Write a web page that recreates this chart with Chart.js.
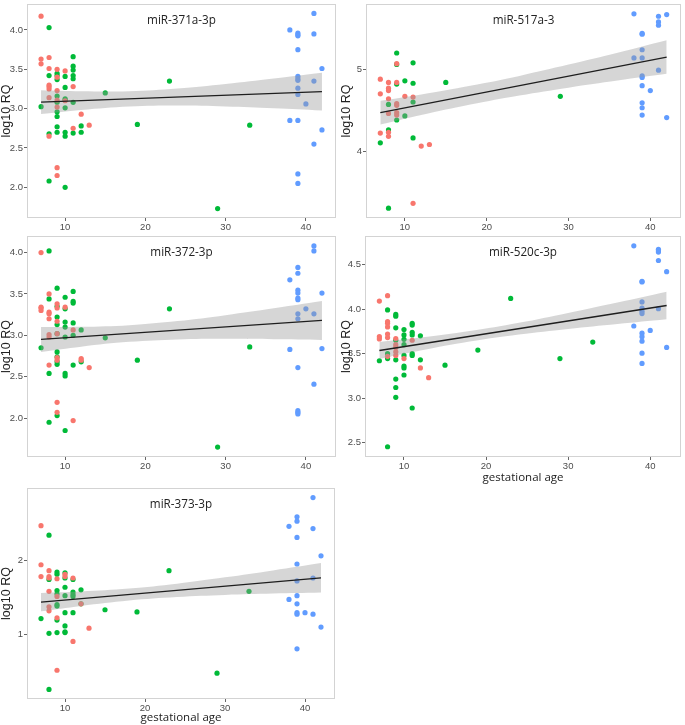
<!DOCTYPE html>
<html>
<head>
<meta charset="utf-8">
<script src="https://cdn.jsdelivr.net/npm/chart.js@4.4.0/dist/chart.umd.min.js"></script>
<style>
  body { margin: 0; background: #fff; width: 685px; height: 725px; position: relative; overflow: hidden; }
  canvas { position: absolute; }
</style>
</head>
<body>
<canvas id="c1" width="340" height="232" style="left:0;top:0"></canvas>
<canvas id="c2" width="345" height="232" style="left:340px;top:0"></canvas>
<canvas id="c3" width="340" height="238" style="left:0;top:232px"></canvas>
<canvas id="c4" width="345" height="256" style="left:340px;top:232px"></canvas>
<canvas id="c5" width="340" height="241" style="left:0;top:484px"></canvas>
<script>
// gestational age ticks, shared by every panel
const xTicks = [10, 20, 30, 40];
const fitX = [7, 42];
const bandX = [7, 12, 18, 24, 30, 36, 42];

// miR-371a-3p
const red371a = [[7,4.175],[7,3.63],[7,3.57],[8,3.65],[8,3.51],[8,3.30],[8,3.28],[8,3.25],[8,3.14],[8,2.65],
  [9,3.50],[9,3.40],[9,3.23],[9,3.11],[9,3.02],[9,2.25],[9,2.15],[10,3.48],[10,3.10],[11,3.28],[11,2.75],[12,2.93],[13,2.79]];
const green371a = [[7,3.025],[8,4.03],[8,3.42],[8,2.68],[8,2.08],[9,3.45],[9,3.42],[9,3.37],[9,3.16],[9,3.08],[9,2.96],
  [9,2.90],[9,2.77],[9,2.70],[10,3.41],[10,3.27],[10,3.125],[10,3.11],[10,3.01],[10,2.70],[10,2.65],[10,2.00],
  [11,3.66],[11,3.54],[11,3.49],[11,3.42],[11,3.38],[11,3.08],[11,2.69],[12,2.78],[12,2.70],[15,3.20],[19,2.80],
  [23,3.35],[29,1.73],[33,2.79]];
const blue371a = [[38,4.00],[38,2.85],[39,3.96],[39,3.94],[39,3.925],[39,3.75],[39,3.41],[39,3.38],[39,3.36],[39,3.26],
  [39,3.18],[39,2.85],[39,2.17],[39,2.05],[40,3.06],[41,4.21],[41,3.95],[41,3.35],[41,2.55],[42,3.51],[42,2.73]];
const fit371a = [3.083, 3.217];
const up371a = [3.233, 3.220, 3.222, 3.256, 3.314, 3.383, 3.457];
const lo371a = [2.933, 2.984, 3.028, 3.040, 3.028, 3.005, 2.977];
const yTicks371a = [2.0, 2.5, 3.0, 3.5, 4.0];

// miR-517a-3
const red517a = [[7,4.88],[7,4.70],[7,4.22],[8,4.84],[8,4.77],[8,4.74],[8,4.64],[8,4.46],[8,4.23],[8,4.18],
  [9,5.07],[9,4.84],[9,4.58],[9,4.56],[9,4.47],[9,4.44],[10,4.67],[11,4.66],[11,3.36],[12,4.06],[13,4.08]];
const green517a = [[7,4.10],[8,4.57],[8,4.26],[8,3.30],[9,5.20],[9,5.06],[9,4.82],[9,4.38],[10,4.86],[10,4.43],
  [11,5.08],[11,4.83],[11,4.60],[11,4.16],[15,4.84],[29,4.67]];
const blue517a = [[38,5.68],[38,5.14],[39,5.44],[39,5.43],[39,5.24],[39,5.14],[39,4.92],[39,4.90],[39,4.80],[39,4.59],
  [39,4.53],[39,4.44],[40,4.74],[41,5.65],[41,5.58],[41,5.54],[41,4.99],[42,5.67],[42,4.41]];
const fit517a = [4.47, 5.15];
const up517a = [4.615, 4.693, 4.799, 4.920, 5.058, 5.203, 5.355];
const lo517a = [4.325, 4.441, 4.569, 4.680, 4.776, 4.863, 4.945];
const yTicks517a = [4, 5];

// miR-372-3p
const red372 = [[7,4.00],[7,3.34],[7,3.33],[7,3.30],[8,3.50],[8,3.28],[8,3.26],[8,3.20],[8,3.01],[8,2.98],[8,2.64],
  [9,3.38],[9,3.33],[9,3.17],[9,3.02],[9,2.73],[9,2.70],[9,2.19],[9,2.07],[10,3.34],[11,3.065],[11,1.97],
  [12,2.72],[12,2.70],[13,2.61]];
const green372 = [[7,2.85],[8,4.02],[8,3.44],[8,2.54],[8,1.95],[9,3.57],[9,3.35],[9,3.22],[9,3.13],[9,3.02],[9,2.80],
  [9,2.74],[9,2.68],[9,2.65],[9,2.03],[10,3.46],[10,3.32],[10,3.16],[10,3.10],[10,2.98],[10,2.54],[10,2.51],[10,1.85],
  [11,3.53],[11,3.41],[11,3.39],[11,3.15],[11,3.00],[11,2.64],[12,3.065],[12,2.68],[15,2.97],[19,2.70],[23,3.32],
  [29,1.65],[33,2.86]];
const blue372 = [[38,3.67],[38,2.83],[39,3.82],[39,3.75],[39,3.545],[39,3.51],[39,3.45],[39,3.43],[39,3.26],[39,3.20],
  [39,2.61],[39,2.09],[39,2.07],[39,2.05],[40,3.32],[41,4.08],[41,4.02],[41,3.26],[41,2.41],[42,3.51],[42,2.84]];
const fit372 = [2.95, 3.18];
const up372 = [3.100, 3.103, 3.123, 3.172, 3.244, 3.327, 3.415];
const lo372 = [2.800, 2.863, 2.921, 2.950, 2.958, 2.953, 2.945];
const yTicks372 = [2.0, 2.5, 3.0, 3.5, 4.0];

// miR-520c-3p
const red520c = [[7,4.09],[7,3.69],[7,3.665],[8,4.15],[8,3.86],[8,3.84],[8,3.80],[8,3.72],[8,3.68],[8,3.47],
  [9,3.67],[9,3.60],[9,3.57],[9,3.52],[9,3.48],[10,3.445],[11,3.65],[12,3.34],[13,3.23]];
const green520c = [[7,3.42],[8,3.99],[8,3.50],[8,3.445],[8,2.455],[9,3.94],[9,3.92],[9,3.79],[9,3.65],[9,3.43],[9,3.215],
  [9,3.12],[9,3.01],[10,3.77],[10,3.71],[10,3.66],[10,3.60],[10,3.48],[10,3.36],[10,3.34],[10,3.26],[11,3.84],
  [11,3.82],[11,3.74],[11,3.71],[11,3.50],[11,3.48],[11,2.89],[12,3.70],[12,3.43],[15,3.37],[19,3.54],[23,4.12],
  [29,3.445],[33,3.63]];
const blue520c = [[38,4.71],[38,3.81],[39,4.31],[39,4.305],[39,4.08],[39,4.01],[39,3.975],[39,3.95],[39,3.73],[39,3.69],
  [39,3.64],[39,3.505],[39,3.39],[40,3.76],[41,4.67],[41,4.655],[41,4.64],[41,4.545],[41,4.005],[42,4.42],[42,3.57]];
const fit520c = [3.535, 4.04];
const up520c = [3.630, 3.680, 3.753, 3.846, 3.957, 4.074, 4.195];
const lo520c = [3.440, 3.534, 3.635, 3.714, 3.777, 3.832, 3.885];
const yTicks520c = [2.5, 3.0, 3.5, 4.0, 4.5];

// miR-373-3p
const red373 = [[7,2.47],[7,1.94],[7,1.78],[8,1.86],[8,1.78],[8,1.76],[8,1.58],[8,1.37],[8,1.315],[9,1.75],[9,1.51],
  [9,1.22],[9,0.51],[10,1.81],[10,1.78],[11,1.76],[11,0.90],[12,1.41],[13,1.08]];
const green373 = [[7,1.21],[8,2.34],[8,1.74],[8,1.01],[8,0.25],[9,1.84],[9,1.81],[9,1.59],[9,1.545],[9,1.40],[9,1.38],
  [9,1.19],[9,1.02],[10,1.83],[10,1.76],[10,1.635],[10,1.52],[10,1.29],[10,1.11],[10,1.03],[10,1.02],[11,1.74],
  [11,1.57],[11,1.535],[11,1.51],[11,1.29],[12,1.60],[12,1.41],[15,1.33],[19,1.30],[23,1.86],[29,0.47],[33,1.58]];
const blue373 = [[38,2.46],[38,1.47],[39,2.59],[39,2.53],[39,2.31],[39,1.95],[39,1.72],[39,1.52],[39,1.41],[39,1.29],
  [39,1.27],[39,0.80],[40,1.29],[41,2.85],[41,2.43],[41,1.76],[41,1.27],[42,2.06],[42,1.095]];
const fit373 = [1.433, 1.763];
const up373 = [1.558, 1.578, 1.618, 1.683, 1.769, 1.863, 1.963];
const lo373 = [1.308, 1.382, 1.456, 1.503, 1.531, 1.549, 1.563];
const yTicks373 = [1, 2];

const toXY = pts => pts.map(([x, y]) => ({ x, y }));
const onX = (xs, ys) => xs.map((x, i) => ({ x, y: ys[i] }));

// panel frame + title written inside the top of the plot area
const frame = {
  id: 'frame',
  afterDraw(chart) {
    const { ctx, chartArea: a } = chart;
    ctx.save();
    ctx.strokeStyle = '#d3d3d3';
    ctx.lineWidth = 1;
    ctx.strokeRect(a.left + 0.5, a.top + 0.5, a.right - a.left - 1, a.bottom - a.top - 1);
    ctx.fillStyle = '#222';
    ctx.font = '11.7px "Open Sans"';
    ctx.textAlign = 'center';
    ctx.textBaseline = 'middle';
    ctx.fillText(chart.options.panelTitle, (a.left + a.right) / 2, a.top + 17);
    ctx.restore();
  }
};

function makePanel(id, p) {
  const pt = (pts, color) => ({ data: toXY(pts), backgroundColor: color, pointRadius: 2.6, borderWidth: 0, order: 2 });
  const tickFont = { family: 'Liberation Sans', size: 9.5 };
  new Chart(document.getElementById(id), {
    type: 'scatter',
    data: {
      datasets: [
        { type: 'line', data: onX(fitX, p.fit), borderColor: '#1e1e1e', borderWidth: 1.3, pointRadius: 0, fill: false, order: 0 },
        { type: 'line', data: onX(bandX, p.up), borderColor: 'transparent', borderWidth: 0, pointRadius: 0,
          backgroundColor: 'rgba(153,153,153,0.4)', fill: '+1', tension: 0.4, order: 1 },
        { type: 'line', data: onX(bandX, p.lo), borderColor: 'transparent', borderWidth: 0, pointRadius: 0, fill: false, tension: 0.4, order: 1 },
        pt(p.red, '#F8766D'),
        pt(p.green, '#00BA38'),
        pt(p.blue, '#619CFF')
      ]
    },
    options: {
      panelTitle: p.title,
      responsive: false,
      animation: false,
      events: [],
      layout: { padding: { left: 0, top: p.top, right: p.right, bottom: 0 } },
      plugins: { legend: { display: false }, tooltip: { enabled: false } },
      scales: {
        x: {
          type: 'linear', min: 5.25, max: 43.75,
          afterBuildTicks: s => { s.ticks = xTicks.map(v => ({ value: v })); },
          ticks: { font: tickFont, color: '#4d4d4d', padding: 1, maxRotation: 0 },
          grid: { drawOnChartArea: false, tickLength: 3, color: '#666' },
          border: { display: false },
          title: { display: p.xTitle, text: 'gestational age', color: '#222', font: { family: 'Open Sans', size: 11.5 }, padding: { top: 0, bottom: p.xtPad } },
          afterFit: s => { s.height = p.xh; s.paddingLeft = 0; s.paddingRight = 0; }
        },
        y: {
          type: 'linear', min: p.yMin, max: p.yMax,
          afterBuildTicks: s => { s.ticks = p.yTicks.map(v => ({ value: v })); },
          ticks: { font: tickFont, color: '#4d4d4d', padding: 1, callback: v => v.toFixed(p.dec) },
          grid: { drawOnChartArea: false, tickLength: 3, color: '#666' },
          border: { display: false },
          title: { display: true, text: 'log10 RQ', color: '#222', font: { family: 'Liberation Sans', size: 12.5, lineHeight: 1 }, padding: { top: 0, bottom: 0 } },
          afterFit: s => { s.width = p.yw; s.paddingTop = 0; s.paddingBottom = 0; }
        }
      }
    },
    plugins: [frame]
  });
}

makePanel('c1', { title: 'miR-371a-3p', red: red371a, green: green371a, blue: blue371a, fit: fit371a, up: up371a, lo: lo371a,
  yTicks: yTicks371a, dec: 1, yMin: 1.61, yMax: 4.33, top: 1, right: 3, yw: 27, xh: 14, xTitle: false, xtPad: 0 });
makePanel('c2', { title: 'miR-517a-3', red: red517a, green: green517a, blue: blue517a, fit: fit517a, up: up517a, lo: lo517a,
  yTicks: yTicks517a, dec: 0, yMin: 3.18, yMax: 5.80, top: 1, right: 2, yw: 26, xh: 14, xTitle: false, xtPad: 0 });
makePanel('c3', { title: 'miR-372-3p', red: red372, green: green372, blue: blue372, fit: fit372, up: up372, lo: lo372,
  yTicks: yTicks372, dec: 1, yMin: 1.53, yMax: 4.20, top: 4, right: 3, yw: 27, xh: 13, xTitle: false, xtPad: 0 });
makePanel('c4', { title: 'miR-520c-3p', red: red520c, green: green520c, blue: blue520c, fit: fit520c, up: up520c, lo: lo520c,
  yTicks: yTicks520c, dec: 1, yMin: 2.34, yMax: 4.82, top: 4, right: 2, yw: 25, xh: 31, xTitle: true, xtPad: 3 });
makePanel('c5', { title: 'miR-373-3p', red: red373, green: green373, blue: blue373, fit: fit373, up: up373, lo: lo373,
  yTicks: yTicks373, dec: 0, yMin: 0.12, yMax: 2.98, top: 4, right: 5, yw: 27, xh: 26, xTitle: true, xtPad: 0 });
</script>
</body>
</html>
